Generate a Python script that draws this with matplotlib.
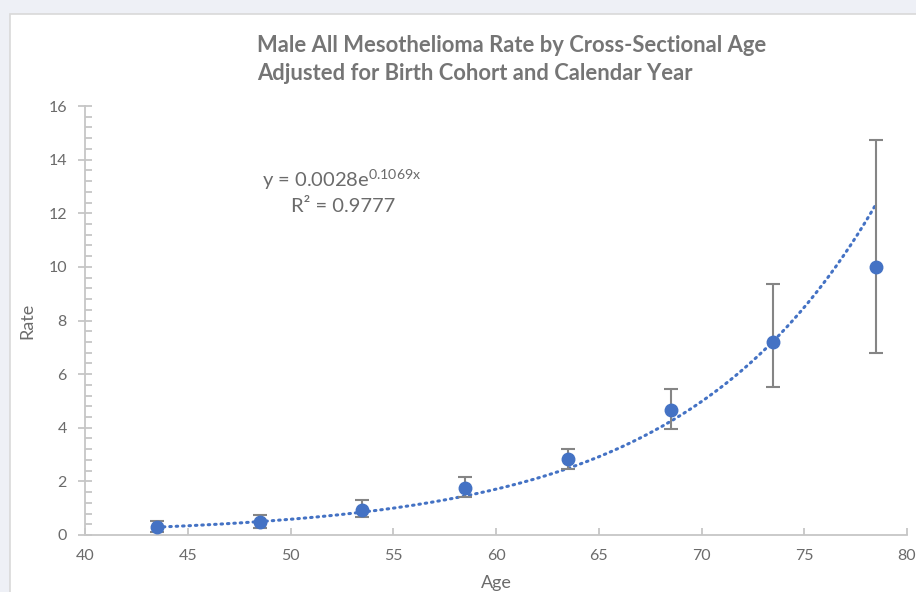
import numpy as np
import matplotlib.pyplot as plt
from matplotlib.patches import Rectangle
from matplotlib.ticker import MultipleLocator

# values
ages = [43.5, 48.5, 53.5, 58.5, 63.5, 68.5, 73.5, 78.5]
rates = [0.30, 0.48, 0.93, 1.74, 2.83, 4.65, 7.19, 10.01]
err_low = [0.12, 0.25, 0.68, 1.43, 2.47, 3.96, 5.51, 6.78]
err_high = [0.52, 0.75, 1.30, 2.15, 3.20, 5.45, 9.37, 14.74]

# exponential trendline as printed on the chart
coef_a = 0.0028
coef_b = 0.1069
r_squared = 0.9777

plt.rcParams['font.family'] = ['Lato', 'DejaVu Sans']
plt.rcParams['mathtext.default'] = 'regular'
txt = '#6b6b6b'
axcol = '#c6c6c6'
blue = '#4472c4'

fig = plt.figure(figsize=(9.16, 5.92), dpi=100, facecolor='#eef0f6')
fig.patches.append(Rectangle((10 / 916, -0.1), 1.0, 1 - 14 / 592 + 0.1,
                             transform=fig.transFigure, facecolor='white',
                             edgecolor='#d9d9d9', lw=1.2, zorder=-5))

ax = fig.add_axes([85 / 916, 1 - 535 / 592, 822 / 916, 429 / 592])
ax.set_facecolor('none')

xs = np.linspace(ages[0], ages[-1], 200)
ax.plot(xs, coef_a * np.exp(coef_b * xs), color=blue, lw=2.2,
        linestyle=(0, (0.5, 1.6)), dash_capstyle='round', zorder=2)

rates_a = np.array(rates)
yerr = [rates_a - np.array(err_low), np.array(err_high) - rates_a]
ax.errorbar(ages, rates, yerr=yerr, fmt='none', ecolor='#858585',
            elinewidth=1.5, capsize=5, capthick=1.5, zorder=3)
ax.plot(ages, rates, 'o', color=blue, markersize=9, zorder=4)

ax.set_xlim(40, 80)
ax.set_ylim(0, 16)
ax.xaxis.set_major_locator(MultipleLocator(5))
ax.yaxis.set_major_locator(MultipleLocator(2))
ax.yaxis.set_minor_locator(MultipleLocator(0.4))

for s in ['top', 'right']:
    ax.spines[s].set_visible(False)
for s in ['left', 'bottom']:
    ax.spines[s].set_color(axcol)
    ax.spines[s].set_linewidth(1.3)

ax.tick_params(axis='x', direction='in', length=5, width=1.3, color=axcol,
               labelcolor=txt, labelsize=11.5, pad=10)
ax.tick_params(axis='y', which='major', direction='inout', length=10,
               width=1.3, color=axcol, labelcolor=txt, labelsize=11.5, pad=8)
ax.tick_params(axis='y', which='minor', direction='in', length=5,
               width=1.3, color=axcol)

ax.set_xlabel('Age', color=txt, fontsize=13, labelpad=9)
ax.set_ylabel('Rate', color=txt, fontsize=13, labelpad=9)

title_col = '#757575'
fig.text(257 / 916, 1 - 45 / 592, 'Male All Mesothelioma Rate by Cross-Sectional Age',
         color=title_col, fontsize=15.8, fontweight='bold', ha='left', va='center')
fig.text(257 / 916, 1 - 74 / 592, 'Adjusted for Birth Cohort and Calendar Year',
         color=title_col, fontsize=15.8, fontweight='bold', ha='left', va='center')

ax.text(342 / 916, 1 - 180 / 592, r'y = %.4fe$^{%.4fx}$' % (coef_a, coef_b),
        transform=fig.transFigure, color=txt, fontsize=14.5, ha='center', va='center')
ax.text(343 / 916, 1 - 207 / 592, 'R² = %.4f' % r_squared,
        transform=fig.transFigure, color=txt, fontsize=14.5, ha='center', va='center')

fig.savefig('out.png', dpi=100, facecolor=fig.get_facecolor())
